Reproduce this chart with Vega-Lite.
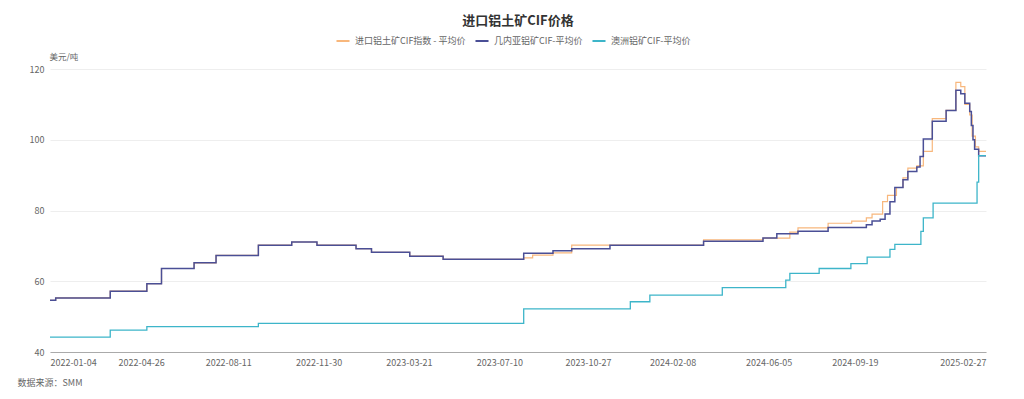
{
  "$schema": "https://vega.github.io/schema/vega-lite/v6.json",
  "width": 936,
  "height": 283,
  "autosize": {"type": "none"},
  "padding": {"left": 50, "top": 69, "right": 38, "bottom": 47},
  "background": "white",
  "title": {"text": "进口铝土矿CIF价格", "anchor": "middle", "fontSize": 13, "fontWeight": "bold", "color": "#333333", "font": "Noto Sans CJK SC", "offset": 5},
  "config": {
    "view": {"stroke": null},
    "font": "Noto Sans CJK SC"
  },
  "datasets": {
    "rows": [
      {"date": "2022-01-04", "series": "几内亚铝矿CIF-平均价", "value": 54.6},
      {"date": "2022-01-11", "series": "几内亚铝矿CIF-平均价", "value": 55.3},
      {"date": "2022-03-19", "series": "几内亚铝矿CIF-平均价", "value": 57.2},
      {"date": "2022-05-03", "series": "几内亚铝矿CIF-平均价", "value": 59.3},
      {"date": "2022-05-21", "series": "几内亚铝矿CIF-平均价", "value": 63.6},
      {"date": "2022-06-30", "series": "几内亚铝矿CIF-平均价", "value": 65.2},
      {"date": "2022-07-27", "series": "几内亚铝矿CIF-平均价", "value": 67.3},
      {"date": "2022-09-17", "series": "几内亚铝矿CIF-平均价", "value": 70.2},
      {"date": "2022-10-28", "series": "几内亚铝矿CIF-平均价", "value": 71.1},
      {"date": "2022-11-28", "series": "几内亚铝矿CIF-平均价", "value": 70.2},
      {"date": "2023-01-15", "series": "几内亚铝矿CIF-平均价", "value": 69.2},
      {"date": "2023-02-03", "series": "几内亚铝矿CIF-平均价", "value": 68.2},
      {"date": "2023-03-22", "series": "几内亚铝矿CIF-平均价", "value": 67.1},
      {"date": "2023-05-02", "series": "几内亚铝矿CIF-平均价", "value": 66.2},
      {"date": "2023-08-09", "series": "几内亚铝矿CIF-平均价", "value": 67.9},
      {"date": "2023-09-14", "series": "几内亚铝矿CIF-平均价", "value": 68.6},
      {"date": "2023-10-07", "series": "几内亚铝矿CIF-平均价", "value": 69.2},
      {"date": "2023-11-23", "series": "几内亚铝矿CIF-平均价", "value": 70.2},
      {"date": "2024-03-17", "series": "几内亚铝矿CIF-平均价", "value": 71.3},
      {"date": "2024-05-29", "series": "几内亚铝矿CIF-平均价", "value": 72.2},
      {"date": "2024-06-15", "series": "几内亚铝矿CIF-平均价", "value": 73.4},
      {"date": "2024-07-11", "series": "几内亚铝矿CIF-平均价", "value": 74.1},
      {"date": "2024-08-17", "series": "几内亚铝矿CIF-平均价", "value": 75.2},
      {"date": "2024-10-03", "series": "几内亚铝矿CIF-平均价", "value": 76},
      {"date": "2024-10-10", "series": "几内亚铝矿CIF-平均价", "value": 77},
      {"date": "2024-10-20", "series": "几内亚铝矿CIF-平均价", "value": 77.5},
      {"date": "2024-10-26", "series": "几内亚铝矿CIF-平均价", "value": 79},
      {"date": "2024-11-01", "series": "几内亚铝矿CIF-平均价", "value": 82.5},
      {"date": "2024-11-07", "series": "几内亚铝矿CIF-平均价", "value": 86.5},
      {"date": "2024-11-17", "series": "几内亚铝矿CIF-平均价", "value": 88.7},
      {"date": "2024-11-23", "series": "几内亚铝矿CIF-平均价", "value": 91},
      {"date": "2024-12-04", "series": "几内亚铝矿CIF-平均价", "value": 92.3},
      {"date": "2024-12-08", "series": "几内亚铝矿CIF-平均价", "value": 95.3},
      {"date": "2024-12-12", "series": "几内亚铝矿CIF-平均价", "value": 100.2},
      {"date": "2024-12-23", "series": "几内亚铝矿CIF-平均价", "value": 105.2},
      {"date": "2025-01-09", "series": "几内亚铝矿CIF-平均价", "value": 108.3},
      {"date": "2025-01-21", "series": "几内亚铝矿CIF-平均价", "value": 114},
      {"date": "2025-01-27", "series": "几内亚铝矿CIF-平均价", "value": 113},
      {"date": "2025-02-01", "series": "几内亚铝矿CIF-平均价", "value": 110.3},
      {"date": "2025-02-07", "series": "几内亚铝矿CIF-平均价", "value": 108},
      {"date": "2025-02-09", "series": "几内亚铝矿CIF-平均价", "value": 104},
      {"date": "2025-02-11", "series": "几内亚铝矿CIF-平均价", "value": 100},
      {"date": "2025-02-13", "series": "几内亚铝矿CIF-平均价", "value": 97.3},
      {"date": "2025-02-18", "series": "几内亚铝矿CIF-平均价", "value": 95.5},
      {"date": "2025-02-27", "series": "几内亚铝矿CIF-平均价", "value": 95.5},

      {"date": "2022-01-04", "series": "进口铝土矿CIF指数 - 平均价", "value": 54.6},
      {"date": "2022-01-11", "series": "进口铝土矿CIF指数 - 平均价", "value": 55.3},
      {"date": "2022-03-19", "series": "进口铝土矿CIF指数 - 平均价", "value": 57.2},
      {"date": "2022-05-03", "series": "进口铝土矿CIF指数 - 平均价", "value": 59.3},
      {"date": "2022-05-21", "series": "进口铝土矿CIF指数 - 平均价", "value": 63.6},
      {"date": "2022-06-30", "series": "进口铝土矿CIF指数 - 平均价", "value": 65.2},
      {"date": "2022-07-27", "series": "进口铝土矿CIF指数 - 平均价", "value": 67.3},
      {"date": "2022-09-17", "series": "进口铝土矿CIF指数 - 平均价", "value": 70.2},
      {"date": "2022-10-28", "series": "进口铝土矿CIF指数 - 平均价", "value": 71.1},
      {"date": "2022-11-28", "series": "进口铝土矿CIF指数 - 平均价", "value": 70.2},
      {"date": "2023-01-15", "series": "进口铝土矿CIF指数 - 平均价", "value": 69.2},
      {"date": "2023-02-03", "series": "进口铝土矿CIF指数 - 平均价", "value": 68.2},
      {"date": "2023-03-22", "series": "进口铝土矿CIF指数 - 平均价", "value": 67.1},
      {"date": "2023-05-02", "series": "进口铝土矿CIF指数 - 平均价", "value": 66.2},
      {"date": "2023-08-09", "series": "进口铝土矿CIF指数 - 平均价", "value": 66.6},
      {"date": "2023-08-20", "series": "进口铝土矿CIF指数 - 平均价", "value": 67.4},
      {"date": "2023-09-14", "series": "进口铝土矿CIF指数 - 平均价", "value": 68},
      {"date": "2023-10-07", "series": "进口铝土矿CIF指数 - 平均价", "value": 70.2},
      {"date": "2024-03-17", "series": "进口铝土矿CIF指数 - 平均价", "value": 71.7},
      {"date": "2024-05-29", "series": "进口铝土矿CIF指数 - 平均价", "value": 72.2},
      {"date": "2024-07-01", "series": "进口铝土矿CIF指数 - 平均价", "value": 73.9},
      {"date": "2024-07-11", "series": "进口铝土矿CIF指数 - 平均价", "value": 75.1},
      {"date": "2024-08-17", "series": "进口铝土矿CIF指数 - 平均价", "value": 76.4},
      {"date": "2024-09-15", "series": "进口铝土矿CIF指数 - 平均价", "value": 77},
      {"date": "2024-10-03", "series": "进口铝土矿CIF指数 - 平均价", "value": 77.9},
      {"date": "2024-10-10", "series": "进口铝土矿CIF指数 - 平均价", "value": 79},
      {"date": "2024-10-23", "series": "进口铝土矿CIF指数 - 平均价", "value": 82.5},
      {"date": "2024-10-29", "series": "进口铝土矿CIF指数 - 平均价", "value": 84.3},
      {"date": "2024-11-09", "series": "进口铝土矿CIF指数 - 平均价", "value": 86.5},
      {"date": "2024-11-17", "series": "进口铝土矿CIF指数 - 平均价", "value": 89.2},
      {"date": "2024-11-23", "series": "进口铝土矿CIF指数 - 平均价", "value": 92},
      {"date": "2024-12-04", "series": "进口铝土矿CIF指数 - 平均价", "value": 92.6},
      {"date": "2024-12-12", "series": "进口铝土矿CIF指数 - 平均价", "value": 96.7},
      {"date": "2024-12-23", "series": "进口铝土矿CIF指数 - 平均价", "value": 106},
      {"date": "2025-01-09", "series": "进口铝土矿CIF指数 - 平均价", "value": 108.3},
      {"date": "2025-01-21", "series": "进口铝土矿CIF指数 - 平均价", "value": 116.2},
      {"date": "2025-01-27", "series": "进口铝土矿CIF指数 - 平均价", "value": 115},
      {"date": "2025-02-01", "series": "进口铝土矿CIF指数 - 平均价", "value": 110},
      {"date": "2025-02-07", "series": "进口铝土矿CIF指数 - 平均价", "value": 107},
      {"date": "2025-02-10", "series": "进口铝土矿CIF指数 - 平均价", "value": 101},
      {"date": "2025-02-14", "series": "进口铝土矿CIF指数 - 平均价", "value": 98},
      {"date": "2025-02-18", "series": "进口铝土矿CIF指数 - 平均价", "value": 96.7},
      {"date": "2025-02-27", "series": "进口铝土矿CIF指数 - 平均价", "value": 96.7},

      {"date": "2022-01-04", "series": "澳洲铝矿CIF-平均价", "value": 44.2},
      {"date": "2022-03-19", "series": "澳洲铝矿CIF-平均价", "value": 46.2},
      {"date": "2022-05-03", "series": "澳洲铝矿CIF-平均价", "value": 47.2},
      {"date": "2022-09-17", "series": "澳洲铝矿CIF-平均价", "value": 48.1},
      {"date": "2023-08-09", "series": "澳洲铝矿CIF-平均价", "value": 52.2},
      {"date": "2023-12-18", "series": "澳洲铝矿CIF-平均价", "value": 54.2},
      {"date": "2024-01-11", "series": "澳洲铝矿CIF-平均价", "value": 56.1},
      {"date": "2024-04-09", "series": "澳洲铝矿CIF-平均价", "value": 58.2},
      {"date": "2024-06-26", "series": "澳洲铝矿CIF-平均价", "value": 60.3},
      {"date": "2024-07-01", "series": "澳洲铝矿CIF-平均价", "value": 62.2},
      {"date": "2024-08-06", "series": "澳洲铝矿CIF-平均价", "value": 63.6},
      {"date": "2024-09-14", "series": "澳洲铝矿CIF-平均价", "value": 65},
      {"date": "2024-10-04", "series": "澳洲铝矿CIF-平均价", "value": 66.8},
      {"date": "2024-11-01", "series": "澳洲铝矿CIF-平均价", "value": 69},
      {"date": "2024-11-07", "series": "澳洲铝矿CIF-平均价", "value": 70.4},
      {"date": "2024-12-09", "series": "澳洲铝矿CIF-平均价", "value": 74.1},
      {"date": "2024-12-12", "series": "澳洲铝矿CIF-平均价", "value": 77.9},
      {"date": "2024-12-24", "series": "澳洲铝矿CIF-平均价", "value": 82.1},
      {"date": "2025-02-16", "series": "澳洲铝矿CIF-平均价", "value": 88},
      {"date": "2025-02-18", "series": "澳洲铝矿CIF-平均价", "value": 95.5},
      {"date": "2025-02-27", "series": "澳洲铝矿CIF-平均价", "value": 95.5}
    ]
  },
  "data": {"name": "rows"},
  "encoding": {
    "x": {
      "field": "date",
      "type": "temporal",
      "scale": {"type": "utc", "domain": [{"year": 2022, "month": 1, "date": 4, "utc": true}, {"year": 2025, "month": 2, "date": 27, "utc": true}]},
      "axis": {
        "values": [
          {"year": 2022, "month": 1, "date": 4, "utc": true},
          {"year": 2022, "month": 4, "date": 26, "utc": true},
          {"year": 2022, "month": 8, "date": 11, "utc": true},
          {"year": 2022, "month": 11, "date": 30, "utc": true},
          {"year": 2023, "month": 3, "date": 21, "utc": true},
          {"year": 2023, "month": 7, "date": 10, "utc": true},
          {"year": 2023, "month": 10, "date": 27, "utc": true},
          {"year": 2024, "month": 2, "date": 8, "utc": true},
          {"year": 2024, "month": 6, "date": 5, "utc": true},
          {"year": 2024, "month": 9, "date": 19, "utc": true},
          {"year": 2025, "month": 2, "date": 27, "utc": true}
        ],
        "labelExpr": "utcFormat(datum.value, '%Y-%m-%d')",
        "labelAlign": {"expr": "datum.index === 0 ? 'left' : datum.index === 1 ? 'right' : 'center'"},
        "labelFontSize": 9,
        "labelColor": "#666666",
        "labelPadding": 6,
        "ticks": false,
        "grid": false,
        "domainColor": "#aaaaaa",
        "domainWidth": 1,
        "labelOverlap": false,
        "labelBound": false,
        "title": "数据来源：SMM",
        "titleFontSize": 9,
        "titleFontWeight": "normal",
        "titleColor": "#666666",
        "titleAnchor": "start",
        "titleAlign": "left",
        "titleBaseline": "middle",
        "titleX": -33,
        "titleY": 30
      }
    },
    "y": {
      "field": "value",
      "type": "quantitative",
      "scale": {"domain": [40, 120], "nice": false, "zero": false},
      "axis": {
        "values": [40, 60, 80, 100, 120],
        "labelFontSize": 9,
        "labelColor": "#666666",
        "labelPadding": 6,
        "ticks": false,
        "domain": false,
        "gridColor": "#eeeeee",
        "gridWidth": 1,
        "title": "美元/吨",
        "titleAngle": 0,
        "titleFontSize": 8.5,
        "titleFontWeight": "normal",
        "titleColor": "#666666",
        "titleAlign": "left",
        "titleBaseline": "middle",
        "titleAnchor": "end",
        "titleX": -1,
        "titleY": -13
      }
    },
    "color": {
      "field": "series",
      "type": "nominal",
      "scale": {
        "domain": ["进口铝土矿CIF指数 - 平均价", "几内亚铝矿CIF-平均价", "澳洲铝矿CIF-平均价"],
        "range": ["#f8b77c", "#4a4f96", "#3db5c9"]
      },
      "legend": {
        "title": null,
        "orient": "none",
        "direction": "horizontal",
        "legendX": 285,
        "legendY": -36,
        "symbolType": "stroke",
        "symbolSize": 170,
        "symbolStrokeWidth": 2,
        "labelFontSize": 9,
        "labelColor": "#666666",
        "labelOffset": 4,
        "columnPadding": 5
      }
    }
  },
  "layer": [
    {
      "transform": [{"filter": "datum.series === '进口铝土矿CIF指数 - 平均价'"}],
      "mark": {"type": "line", "interpolate": "step-after", "strokeWidth": 1.2}
    },
    {
      "transform": [{"filter": "datum.series === '几内亚铝矿CIF-平均价'"}],
      "mark": {"type": "line", "interpolate": "step-after", "strokeWidth": 1.5}
    },
    {
      "transform": [{"filter": "datum.series === '澳洲铝矿CIF-平均价'"}],
      "mark": {"type": "line", "interpolate": "step-after", "strokeWidth": 1.3}
    }
  ]
}
